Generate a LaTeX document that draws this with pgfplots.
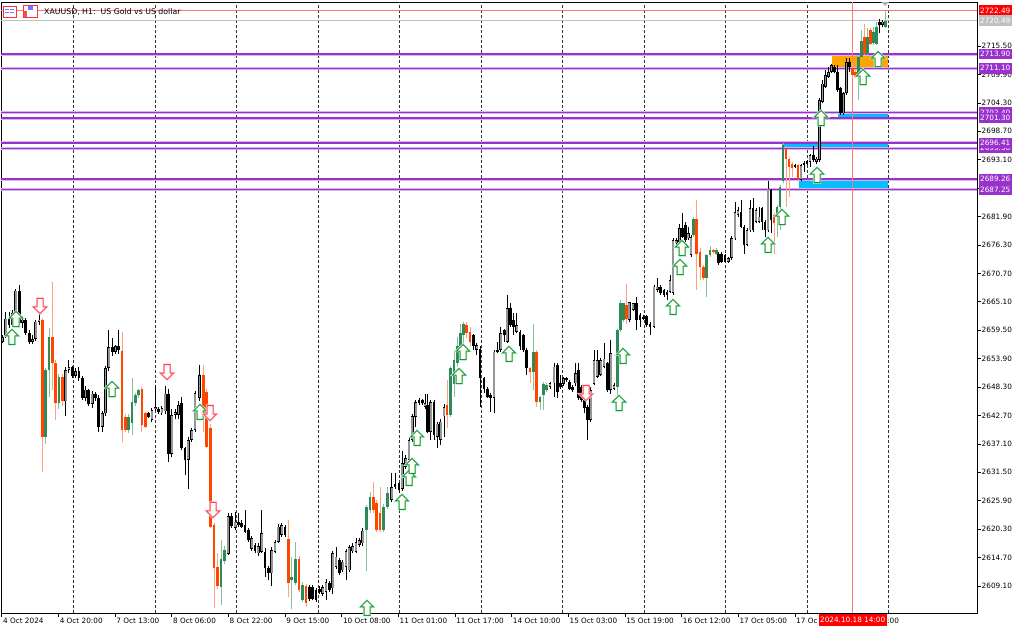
\documentclass[border=0pt]{standalone}
\usepackage{fontspec}
\setmainfont{DejaVu Sans}
\usepackage{pgfplots}
\pgfplotsset{compat=1.18}
\usepackage{pgfplotstable}

\definecolor{cgray}{RGB}{150,150,150}
\definecolor{cgreen}{RGB}{46,139,87}
\definecolor{cgreenl}{RGB}{130,195,150}
\definecolor{corange}{RGB}{255,69,0}
\definecolor{corangel}{RGB}{255,160,122}
\definecolor{cpurple}{RGB}{153,50,204}
\definecolor{cpurplel}{RGB}{215,180,238}
\definecolor{czone}{RGB}{255,165,0}
\definecolor{cblue}{RGB}{0,191,255}
\definecolor{cred}{RGB}{255,0,0}
\definecolor{credl}{RGB}{255,120,120}
\definecolor{csilver}{RGB}{192,192,192}
\definecolor{cgrid}{RGB}{50,50,50}
\definecolor{agreen}{RGB}{30,150,30}
\definecolor{aglow}{RGB}{190,245,245}
\definecolor{ared}{RGB}{255,70,80}
\definecolor{aredglow}{RGB}{255,205,215}

\pgfdeclareplotmark{uparr}{%
  \pgfpathmoveto{\pgfqpoint{0pt}{7.5pt}}%
  \pgfpathlineto{\pgfqpoint{6.5pt}{1pt}}%
  \pgfpathlineto{\pgfqpoint{3pt}{1pt}}%
  \pgfpathlineto{\pgfqpoint{3pt}{-7.5pt}}%
  \pgfpathlineto{\pgfqpoint{-3pt}{-7.5pt}}%
  \pgfpathlineto{\pgfqpoint{-3pt}{1pt}}%
  \pgfpathlineto{\pgfqpoint{-6.5pt}{1pt}}%
  \pgfpathclose
  \pgfusepathqfillstroke}
\pgfdeclareplotmark{dnarr}{%
  \pgfpathmoveto{\pgfqpoint{0pt}{-7.5pt}}%
  \pgfpathlineto{\pgfqpoint{6.5pt}{-1pt}}%
  \pgfpathlineto{\pgfqpoint{3pt}{-1pt}}%
  \pgfpathlineto{\pgfqpoint{3pt}{7.5pt}}%
  \pgfpathlineto{\pgfqpoint{-3pt}{7.5pt}}%
  \pgfpathlineto{\pgfqpoint{-3pt}{-1pt}}%
  \pgfpathlineto{\pgfqpoint{-6.5pt}{-1pt}}%
  \pgfpathclose
  \pgfusepathqfillstroke}

% k: 0 bull (gray), 1 bear (black), 2 green, 3 orange
\pgfplotstableread{
x o h l c k
2.5 2657.2 2658.5 2656.9 2658.2 0
5.8 2658.2 2663.1 2658.0 2661.8 0
9.1 2661.8 2663.0 2660.0 2660.6 1
12.5 2660.6 2663.5 2660.2 2662.9 0
15.8 2662.9 2667.7 2662.2 2667.3 0
19.1 2667.3 2668.5 2660.6 2661.0 1
22.4 2661.0 2662.3 2660.0 2661.6 0
25.7 2661.6 2662.0 2658.5 2659.0 1
29.1 2659.0 2659.6 2656.7 2657.2 1
32.4 2657.2 2658.6 2656.8 2657.8 0
35.7 2657.8 2661.6 2657.4 2661.2 0
39.0 2661.2 2662.8 2660.5 2661.6 0
42.3 2661.6 2661.9 2631.6 2638.5 3
45.7 2638.5 2652.0 2637.0 2651.7 2
49.0 2651.7 2660.0 2646.4 2658.2 2
52.3 2658.2 2669.0 2647.7 2653.0 3
55.6 2653.0 2653.6 2641.8 2645.1 3
58.9 2645.1 2650.8 2644.0 2650.3 2
62.3 2650.3 2650.8 2644.5 2645.5 3
65.6 2645.5 2652.2 2642.5 2651.7 0
68.9 2651.7 2653.6 2651.0 2652.2 0
72.2 2652.2 2652.5 2650.0 2650.5 1
75.5 2650.5 2652.0 2650.0 2651.5 0
78.9 2651.5 2652.3 2649.5 2650.0 1
82.2 2650.0 2650.5 2645.8 2646.1 1
85.5 2646.1 2648.5 2645.5 2647.8 0
88.8 2647.8 2648.0 2644.5 2645.0 1
92.1 2645.0 2647.5 2644.2 2647.0 0
95.5 2647.0 2647.4 2645.5 2646.2 1
98.8 2646.2 2646.8 2639.5 2640.5 1
102.1 2640.5 2643.5 2639.5 2643.1 0
105.4 2643.1 2652.5 2642.5 2652.0 0
108.7 2652.0 2659.5 2651.5 2656.2 0
112.1 2656.2 2658.0 2654.5 2655.2 1
115.4 2655.2 2656.5 2654.8 2656.3 0
118.7 2656.3 2659.5 2654.8 2655.5 1
122.0 2655.5 2659.2 2637.5 2639.8 3
125.3 2642.4 2643.0 2639.5 2639.8 3
128.7 2639.8 2643.0 2639.3 2642.4 2
132.0 2641.2 2650.0 2638.8 2645.4 2
135.3 2645.1 2647.2 2644.5 2646.7 2
138.6 2646.7 2648.0 2646.2 2647.7 2
141.9 2648.0 2648.3 2639.5 2640.8 3
145.3 2643.1 2643.4 2640.2 2640.5 3
148.6 2643.1 2643.4 2642.2 2642.5 1
151.9 2641.8 2644.2 2641.5 2643.8 0
155.2 2644.0 2648.7 2643.5 2644.4 0
158.5 2644.0 2644.3 2643.0 2643.3 1
161.9 2643.1 2644.5 2642.8 2644.1 0
165.2 2643.5 2648.5 2643.0 2647.0 0
168.5 2647.0 2648.0 2633.6 2635.2 1
171.8 2635.2 2644.0 2634.5 2642.8 0
175.1 2642.8 2644.0 2642.0 2643.4 0
178.5 2642.8 2645.5 2642.0 2644.8 0
181.7 2645.1 2646.4 2635.8 2636.2 1
185.0 2636.2 2636.5 2631.0 2633.9 1
188.3 2633.9 2638.5 2628.3 2637.9 0
191.7 2637.9 2640.2 2637.5 2639.8 0
195.0 2639.8 2647.5 2639.5 2647.1 0
199.5 2646.1 2652.6 2645.5 2650.7 0
203.3 2650.7 2652.6 2639.5 2643.0 3
206.7 2647.4 2648.0 2636.2 2636.5 3
210.7 2640.2 2641.0 2620.5 2620.8 3
214.0 2621.1 2621.5 2604.7 2612.6 3
217.7 2612.9 2615.5 2608.5 2609.0 3
221.0 2609.0 2618.1 2605.3 2614.5 2
224.3 2614.0 2617.0 2613.5 2616.2 2
228.3 2615.5 2623.4 2615.2 2622.8 0
231.7 2622.8 2623.4 2620.5 2621.0 1
235.0 2620.5 2623.7 2620.2 2621.8 0
238.3 2621.8 2623.4 2620.8 2621.1 1
241.7 2621.5 2622.0 2620.5 2620.8 1
245.0 2621.1 2624.1 2619.5 2619.8 1
248.3 2620.1 2620.5 2617.8 2618.1 1
251.7 2616.4 2619.0 2616.0 2618.5 0
255.0 2617.2 2617.5 2615.5 2615.9 1
258.3 2615.5 2617.5 2615.0 2616.9 0
261.7 2615.9 2624.1 2615.5 2619.5 0
265.0 2615.9 2616.5 2610.9 2612.6 1
268.3 2612.6 2613.0 2610.3 2611.6 1
271.7 2611.6 2616.8 2609.0 2616.2 0
275.0 2615.8 2618.2 2615.5 2617.8 0
278.3 2617.8 2621.3 2617.5 2620.8 0
281.7 2619.2 2621.6 2618.8 2621.1 0
285.0 2620.8 2621.2 2618.8 2619.2 1
288.3 2618.4 2622.1 2607.0 2609.6 3
291.7 2610.2 2614.9 2604.6 2610.9 2
295.7 2609.6 2617.8 2609.3 2614.5 2
299.0 2614.5 2615.0 2608.0 2608.3 3
302.7 2606.3 2609.8 2606.0 2609.3 2
306.0 2609.0 2609.5 2605.0 2605.7 3
309.3 2608.9 2609.3 2606.2 2606.6 1
312.7 2608.9 2609.2 2606.3 2606.6 1
316.0 2608.3 2608.6 2605.9 2606.3 1
319.3 2608.6 2609.0 2607.6 2608.0 1
322.7 2607.6 2609.3 2607.2 2608.9 0
326.0 2607.9 2610.4 2606.3 2609.9 0
329.3 2609.6 2610.0 2608.0 2608.3 1
332.7 2608.6 2616.0 2607.6 2615.5 0
336.0 2612.9 2616.8 2612.5 2614.9 0
339.3 2614.2 2614.6 2611.2 2611.6 1
342.7 2612.2 2614.3 2611.8 2613.9 0
346.0 2612.9 2616.3 2610.3 2615.9 0
349.3 2612.2 2617.2 2611.8 2616.8 0
352.7 2615.9 2617.5 2615.5 2616.9 0
356.0 2615.9 2618.5 2615.5 2617.8 0
359.3 2617.2 2618.5 2616.8 2618.1 0
362.7 2617.5 2620.5 2617.0 2620.0 0
366.7 2620.1 2625.0 2612.0 2624.7 2
370.0 2624.0 2627.7 2623.5 2626.7 2
373.3 2626.7 2629.6 2623.4 2624.1 3
376.7 2625.4 2626.0 2619.8 2620.1 3
380.0 2623.4 2628.6 2619.8 2620.1 3
383.3 2620.1 2625.2 2619.8 2624.7 2
387.3 2624.7 2628.6 2624.2 2627.4 2
391.7 2626.0 2631.3 2625.7 2628.6 0
395.0 2629.3 2631.3 2628.2 2628.6 1
399.0 2629.3 2629.6 2627.4 2628.0 1
402.3 2628.3 2635.6 2627.9 2633.3 0
405.7 2632.6 2635.0 2632.2 2634.3 0
409.0 2633.9 2638.5 2633.5 2637.9 0
412.3 2637.9 2643.0 2637.5 2642.5 0
415.7 2642.5 2645.8 2640.5 2645.4 0
419.0 2645.8 2646.2 2644.8 2645.1 1
422.3 2645.8 2646.0 2644.8 2645.1 1
425.0 2644.4 2647.0 2644.0 2645.1 0
427.7 2644.8 2647.0 2639.2 2639.5 1
430.7 2639.5 2645.8 2637.9 2645.4 0
434.0 2645.4 2645.8 2637.9 2638.8 1
437.3 2638.5 2641.5 2636.2 2641.1 0
440.7 2637.9 2642.0 2636.9 2641.5 0
444.0 2642.5 2645.0 2638.5 2644.4 0
447.0 2644.8 2649.7 2640.2 2642.8 3
450.7 2642.8 2652.4 2642.4 2652.0 2
454.0 2649.0 2655.6 2646.4 2653.6 2
457.3 2653.0 2658.2 2652.3 2656.3 2
460.3 2656.3 2660.8 2656.0 2658.9 2
463.5 2658.5 2661.2 2653.9 2660.8 2
466.7 2660.5 2661.2 2657.9 2658.9 3
470.0 2659.2 2660.2 2656.3 2657.2 3
473.3 2658.5 2658.8 2655.6 2656.3 1
476.7 2655.6 2657.0 2654.6 2656.6 0
480.0 2655.9 2656.3 2644.4 2650.0 1
484.0 2650.0 2650.3 2647.1 2648.0 1
487.3 2648.0 2648.3 2646.1 2646.4 1
490.7 2646.7 2647.1 2643.4 2646.1 1
494.0 2646.1 2655.6 2643.1 2655.3 0
497.7 2655.3 2657.2 2655.0 2655.6 0
500.7 2655.6 2660.2 2655.3 2658.9 0
504.3 2659.5 2659.8 2657.2 2658.5 1
507.3 2657.2 2666.4 2657.0 2663.8 0
510.7 2663.8 2664.8 2660.2 2660.5 1
513.3 2661.5 2662.8 2658.5 2660.2 1
516.7 2659.2 2662.8 2658.9 2660.5 0
520.0 2659.2 2659.5 2655.6 2656.3 1
523.3 2658.5 2658.8 2655.3 2655.6 1
526.7 2655.6 2656.0 2650.7 2652.0 1
530.0 2652.0 2652.3 2649.0 2651.3 3
533.3 2651.3 2660.8 2647.7 2655.3 2
536.7 2655.3 2655.6 2644.4 2645.4 3
540.0 2645.4 2646.6 2643.8 2646.4 2
543.3 2646.7 2649.3 2643.8 2649.0 2
546.7 2647.7 2649.0 2647.3 2648.7 2
550.0 2648.4 2649.3 2648.0 2649.0 0
554.0 2649.0 2653.0 2646.4 2652.3 0
557.3 2652.6 2653.0 2646.1 2647.4 1
560.3 2649.0 2650.6 2648.0 2648.4 1
563.5 2649.0 2650.3 2648.6 2650.0 0
566.5 2650.0 2650.3 2649.3 2649.7 1
569.5 2649.3 2649.6 2647.7 2648.0 1
572.7 2648.4 2648.7 2647.4 2647.7 1
575.7 2649.0 2653.0 2648.6 2651.0 0
578.7 2651.6 2653.0 2645.8 2646.1 1
581.7 2648.4 2648.7 2645.4 2645.8 1
584.7 2645.8 2646.1 2643.1 2644.1 1
587.7 2644.4 2644.8 2637.9 2641.8 1
590.7 2641.8 2648.4 2641.5 2647.7 0
594.0 2649.0 2655.6 2648.7 2653.6 0
597.3 2650.3 2655.6 2650.0 2653.6 0
600.7 2650.7 2654.0 2650.4 2653.6 0
604.0 2652.3 2656.9 2652.0 2653.9 0
607.3 2653.0 2653.3 2647.4 2647.7 1
610.7 2647.7 2657.6 2647.0 2655.0 0
614.0 2648.0 2649.0 2647.7 2648.7 0
617.3 2648.4 2659.8 2646.4 2659.5 2
620.3 2659.5 2665.4 2659.2 2664.8 2
623.3 2661.5 2664.8 2661.2 2664.8 2
626.3 2664.5 2668.7 2660.8 2661.8 3
629.3 2661.5 2665.1 2661.2 2665.1 0
633.3 2663.5 2664.8 2663.2 2664.8 0
636.7 2664.8 2666.1 2659.5 2661.5 1
640.0 2662.5 2662.8 2660.2 2661.5 1
643.3 2662.2 2662.5 2661.5 2661.8 1
646.7 2662.2 2662.5 2660.2 2660.5 1
650.0 2660.8 2661.1 2658.5 2660.2 1
654.0 2660.2 2668.4 2659.9 2668.1 0
657.3 2667.4 2669.7 2667.1 2668.1 0
660.7 2668.1 2668.4 2666.5 2666.8 1
664.0 2667.4 2667.7 2666.1 2666.4 1
667.0 2667.1 2667.4 2665.4 2666.4 1
670.0 2667.1 2670.4 2666.8 2669.4 0
673.0 2666.8 2677.6 2666.5 2677.3 0
676.3 2676.6 2677.6 2676.3 2677.3 0
679.5 2676.9 2680.5 2676.6 2679.6 0
682.7 2679.6 2682.5 2677.6 2677.9 1
685.5 2680.2 2680.9 2676.9 2677.3 1
688.3 2677.6 2679.9 2677.3 2678.6 0
691.0 2674.3 2678.3 2674.0 2677.9 0
693.7 2678.3 2681.9 2677.9 2681.5 2
696.7 2681.5 2685.1 2667.4 2674.6 3
700.0 2675.0 2675.6 2669.4 2672.0 3
703.3 2672.0 2672.3 2669.4 2669.7 3
706.7 2669.7 2674.6 2666.1 2674.3 2
710.0 2674.3 2676.0 2674.0 2675.3 2
713.3 2675.3 2675.5 2674.6 2674.9 3
716.2 2674.6 2675.6 2674.3 2675.3 2
718.8 2674.6 2675.0 2672.3 2672.7 1
721.7 2674.6 2674.9 2672.7 2673.0 1
725.0 2674.3 2674.6 2672.7 2673.0 1
728.3 2673.0 2674.0 2672.7 2673.7 0
731.7 2673.7 2678.0 2673.4 2677.6 0
735.0 2677.6 2684.8 2677.3 2682.8 0
738.0 2682.2 2683.8 2681.9 2683.2 0
741.0 2682.8 2685.1 2679.6 2679.9 1
744.0 2679.9 2680.2 2674.6 2676.3 1
747.0 2676.3 2679.6 2676.0 2679.2 0
750.0 2679.2 2685.1 2678.9 2683.5 0
753.0 2683.5 2685.5 2678.9 2679.2 1
756.0 2680.9 2683.5 2680.6 2683.2 0
759.0 2680.9 2683.8 2680.6 2681.9 0
762.0 2683.5 2683.8 2679.2 2680.9 1
765.0 2680.9 2681.2 2677.9 2679.2 1
768.0 2679.2 2688.8 2678.9 2687.4 0
771.0 2687.1 2687.4 2678.6 2681.2 1
774.0 2682.2 2682.5 2674.6 2680.6 3
777.0 2681.9 2684.1 2677.9 2683.8 2
780.0 2683.8 2688.1 2679.2 2687.7 2
783.0 2688.8 2696.3 2688.5 2696.0 2
786.0 2695.4 2695.7 2683.8 2693.3 3
789.0 2693.3 2693.6 2685.8 2691.7 3
792.0 2692.3 2692.6 2689.7 2691.4 3
795.0 2692.0 2692.3 2691.4 2691.7 1
798.0 2692.0 2692.3 2688.8 2689.1 3
801.0 2689.1 2692.3 2688.8 2692.0 0
804.0 2692.5 2692.8 2690.7 2692.0 1
807.0 2692.8 2693.0 2692.0 2692.2 1
810.0 2692.6 2694.3 2691.7 2694.0 0
813.3 2694.0 2695.7 2692.7 2693.0 1
816.5 2692.7 2693.6 2692.3 2693.3 0
819.5 2693.0 2705.2 2692.7 2704.9 0
822.5 2704.5 2708.8 2704.2 2708.1 0
825.5 2707.5 2710.8 2707.2 2709.8 0
828.5 2709.4 2711.4 2709.1 2710.4 0
831.5 2710.4 2712.0 2710.1 2711.7 0
834.5 2711.4 2711.7 2710.1 2710.4 1
837.5 2710.4 2711.7 2706.5 2706.8 1
840.5 2707.2 2707.5 2701.9 2702.2 1
843.5 2702.2 2706.5 2701.9 2706.2 0
846.5 2706.2 2713.1 2705.9 2712.4 0
849.5 2712.4 2713.1 2710.4 2711.4 1
852.7 2711.1 2712.1 2709.1 2709.8 3
855.7 2710.4 2710.7 2709.1 2709.4 3
858.7 2709.8 2713.7 2704.9 2713.4 2
861.7 2713.4 2718.6 2713.1 2716.4 2
864.7 2717.3 2719.9 2713.7 2714.0 3
867.7 2714.0 2719.0 2713.7 2717.3 2
870.7 2718.6 2719.0 2715.7 2716.0 3
873.7 2716.0 2719.3 2715.7 2718.3 2
876.7 2716.0 2720.3 2715.7 2719.3 2
879.7 2720.3 2720.9 2718.0 2719.6 1
882.5 2719.6 2720.6 2719.3 2720.3 0
885.3 2719.3 2722.3 2719.0 2720.5 2
}\candles

\pgfplotstableread{
x y
12 2658.16
16 2661.70
112 2647.91
200 2643.38
367 2604.76
402 2625.65
409 2630.38
412 2632.74
417 2638.26
459 2650.47
463 2655.20
509 2654.81
619 2645.15
623 2654.42
673 2664.07
680 2671.95
682 2675.69
768 2676.29
782 2681.80
817 2690.08
821 2701.31
863 2709.39
878 2712.93
}\uparrows

\pgfplotstableread{
x y
40 2664.27
167 2651.26
210 2643.18
213 2624.07
586 2647.12
}\dnarrows

\newcommand{\tfont}{\fontsize{7.3}{8.5}\selectfont}
% candle body half height (at least 0.13)
\newcommand{\hh}{max(abs(\thisrow{c}-\thisrow{o})/2,0.13)}

\begin{document}
\begin{tikzpicture}
\path[use as bounding box] (-1pt,2pt) rectangle (1023pt,-630pt);
\begin{axis}[
  at={(0pt,0pt)}, anchor=north west,
  scale only axis, width=976pt, height=611pt,
  xmin=1, xmax=977, ymin=2603.77, ymax=2724.17,
  axis line style={black, line width=0.8pt},
  xtick={1.7,58.35,115.0,171.65,228.3,284.95,341.6,398.25,454.9,511.55,568.2,624.85,681.5,738.15,794.8,851.45},
  xticklabels={4 Oct 2024,4 Oct 20:00,7 Oct 13:00,8 Oct 06:00,8 Oct 22:00,9 Oct 15:00,10 Oct 08:00,11 Oct 01:00,11 Oct 17:00,14 Oct 10:00,15 Oct 03:00,15 Oct 19:00,16 Oct 12:00,17 Oct 05:00,17 Oc,{}},
  ytick={2609.1,2614.7,2620.3,2625.9,2631.5,2637.1,2642.7,2648.3,2653.9,2659.5,2665.1,2670.7,2676.3,2681.9,2687.5,2693.1,2698.7,2704.3,2709.9,2715.5},
  xtick pos=left, ytick pos=right,
  xticklabel pos=left, yticklabel pos=right,
  tick align=outside, major tick length=4pt,
  tick style={black, line width=0.6pt},
  xticklabel style={font=\tfont, anchor=north west, inner sep=0pt, xshift=1.2pt, yshift=-0.5pt},
  yticklabel style={font=\tfont, anchor=west, inner sep=0pt, xshift=0.5pt,
    /pgf/number format/.cd, fixed, fixed zerofill, precision=2, 1000 sep={}, assume math mode=true},
  extra x ticks={73.3,154.8,236.3,317.8,399.3,480.8,562.3,643.8,725.3,806.8,888.3},
  extra x tick labels={},
  extra x tick style={grid=major, major tick length=0pt,
    major grid style={cgrid, dash pattern=on 3pt off 2pt, line width=0.6pt}},
  clip=true,
]
% zones
\addplot[fill=czone, draw=none] coordinates {(831.7,2711.1) (888,2711.1) (888,2713.9) (831.7,2713.9)} -- cycle;
\addplot[fill=cblue, draw=none] coordinates {(838,2701.3) (888,2701.3) (888,2702.4) (838,2702.4)} -- cycle;
\addplot[fill=cblue, draw=none] coordinates {(781.7,2695.36) (888,2695.36) (888,2696.41) (781.7,2696.41)} -- cycle;
\addplot[fill=cblue, draw=none] coordinates {(799,2687.25) (888,2687.25) (888,2689.26) (799,2689.26)} -- cycle;
% price lines
\addplot[credl, line width=0.9pt] coordinates {(1,2722.49) (977,2722.49)};
\addplot[csilver, line width=0.9pt] coordinates {(1,2720.49) (977,2720.49)};
\pgfplotsinvokeforeach{2713.9,2711.1,2702.4,2701.3,2696.41,2695.36,2689.26,2687.25}{
  \addplot[cpurplel, line width=3pt] coordinates {(1,#1) (977,#1)};
  \addplot[cpurple, line width=1.4pt] coordinates {(1,#1) (977,#1)};
}
% current time line
\addplot[credl, line width=0.8pt] coordinates {(852.7,2603.77) (852.7,2724.17)};
% wicks
\addplot[mark=none, black, line width=0.9pt, quiver={u=0, v=\thisrow{h}-\thisrow{l}},
  restrict expr to domain={\thisrow{k}}{-0.5:1.5}]
  table[x=x, y=l] {\candles};
\addplot[mark=none, cgreenl, line width=0.9pt, quiver={u=0, v=\thisrow{h}-\thisrow{l}},
  restrict expr to domain={\thisrow{k}}{1.5:2.5}]
  table[x=x, y=l] {\candles};
\addplot[mark=none, corangel, line width=0.9pt, quiver={u=0, v=\thisrow{h}-\thisrow{l}},
  restrict expr to domain={\thisrow{k}}{2.5:3.5}]
  table[x=x, y=l] {\candles};
% bodies
\addplot[mark=none, black, line width=2.8pt, quiver={u=0, v=2*\hh},
  restrict expr to domain={\thisrow{k}}{-0.5:1.5}]
  table[x=x, y expr={(\thisrow{o}+\thisrow{c})/2-\hh}] {\candles};
\addplot[mark=none, cgray, line width=1.8pt, quiver={u=0, v=2*\hh-0.3},
  restrict expr to domain={\thisrow{k}}{-0.5:0.5}]
  table[x=x, y expr={(\thisrow{o}+\thisrow{c})/2-\hh+0.15}] {\candles};
\addplot[mark=none, cgreen, line width=2.8pt, quiver={u=0, v=2*\hh},
  restrict expr to domain={\thisrow{k}}{1.5:2.5}]
  table[x=x, y expr={(\thisrow{o}+\thisrow{c})/2-\hh}] {\candles};
\addplot[mark=none, corange, line width=2.8pt, quiver={u=0, v=2*\hh},
  restrict expr to domain={\thisrow{k}}{2.5:3.5}]
  table[x=x, y expr={(\thisrow{o}+\thisrow{c})/2-\hh}] {\candles};
% signal arrows
\addplot[only marks, mark=uparr, mark options={draw=aglow, line width=2.2pt, fill=white}] table {\uparrows};
\addplot[only marks, mark=uparr, mark options={draw=agreen, line width=1pt, fill=white}] table {\uparrows};
\addplot[only marks, mark=dnarr, mark options={draw=aredglow, line width=2.2pt, fill=white}] table {\dnarrows};
\addplot[only marks, mark=dnarr, mark options={draw=ared, line width=1pt, fill=white}] table {\dnarrows};
% label anchors
\coordinate (L1) at (axis cs:977,2722.49);
\coordinate (L2) at (axis cs:977,2720.49);
\coordinate (L3) at (axis cs:977,2713.90);
\coordinate (L4) at (axis cs:977,2711.10);
\coordinate (L5) at (axis cs:977,2702.40);
\coordinate (L6) at (axis cs:977,2701.30);
\coordinate (L7) at (axis cs:977,2695.36);
\coordinate (L8) at (axis cs:977,2696.41);
\coordinate (L9) at (axis cs:977,2689.26);
\coordinate (L10) at (axis cs:977,2687.25);
\coordinate (T1) at (axis cs:852.7,2603.77);
\coordinate (T2) at (axis cs:887.0,2603.77);
\end{axis}
\tikzset{lbl/.style={anchor=west, text=white, font=\tfont, inner xsep=1.3pt, inner ysep=0pt, minimum height=10.5pt, xshift=1.6pt}}
\node[lbl, fill=cred] at (L1) {2722.49};
\node[lbl, fill=csilver] at (L2) {2720.49};
\node[lbl, fill=cpurple] at (L3) {2713.90};
\node[lbl, fill=cpurple] at (L4) {2711.10};
\node[lbl, fill=cpurple] at (L5) {2702.40};
\node[lbl, fill=cpurple] at (L6) {2701.30};
\node[lbl, fill=cpurple] at (L7) {2695.36};
\node[lbl, fill=cpurple] at (L8) {2696.41};
\node[lbl, fill=cpurple] at (L9) {2689.26};
\node[lbl, fill=cpurple] at (L10) {2687.25};
\node[anchor=north, fill=cred, text=white, font=\tfont, inner xsep=1.5pt, inner ysep=0pt, minimum height=12pt, yshift=-0.6pt] at (T1) {2024.10.18 14:00};
\node[anchor=north west, font=\tfont, inner sep=0pt, yshift=-4.5pt] at (T2) {:00};
% title and icons
\draw[red!80, fill=white, line width=0.8pt] (2.5pt,-4pt) rectangle (15.5pt,-15pt);
\fill[blue!55] (4.5pt,-7pt) rectangle (8pt,-8.2pt);
\fill[blue!55] (4.5pt,-10pt) rectangle (8pt,-11.2pt);
\fill[blue!55] (9.5pt,-7pt) rectangle (13.5pt,-8.2pt);
\fill[blue!55] (9.5pt,-10pt) rectangle (13.5pt,-11.2pt);
\draw[red!80, fill=white, line width=0.8pt] (22pt,-3.5pt) rectangle (36pt,-15pt);
\fill[blue!55] (27pt,-4pt) rectangle (32pt,-8pt);
\fill[red!70] (23pt,-9pt) rectangle (26pt,-14.5pt);
\node[anchor=west, font=\fontsize{7.8}{9}\selectfont, inner sep=0pt] at (43pt,-10pt) {XAUUSD, H1:\ \ US Gold vs US dollar};
\fill[gray!60] (880pt,0pt) -- (888pt,0pt) -- (884pt,-4pt) -- cycle;
\end{tikzpicture}
\end{document}
